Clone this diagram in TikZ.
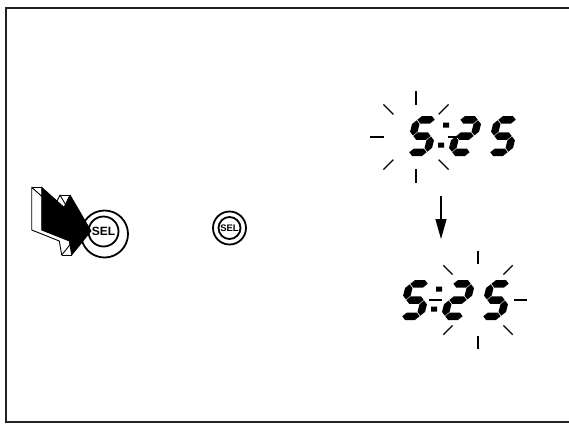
\documentclass[tikz,border=0pt]{standalone}
\usepackage{fontspec}
\setsansfont{Liberation Sans}
\usepackage{tikz}
\usetikzlibrary{arrows.meta}
\definecolor{framegray}{RGB}{35,35,35}
% seven-segment pieces (digit box 26 x 40, y up)
\newcommand{\sega}{(4.35,36.25) -- (8.1,40) -- (17.9,40) -- (21.65,36.25) -- (17.9,32.5) -- (8.1,32.5) -- cycle}
\newcommand{\segb}{(22.25,20.6) -- (26,24.35) -- (26,31.9) -- (22.25,35.65) -- (18.5,31.9) -- (18.5,24.35) -- cycle}
\newcommand{\segc}{(22.25,4.35) -- (26,8.1) -- (26,15.65) -- (22.25,19.4) -- (18.5,15.65) -- (18.5,8.1) -- cycle}
\newcommand{\segd}{(4.35,3.75) -- (8.1,7.5) -- (17.9,7.5) -- (21.65,3.75) -- (17.9,0) -- (8.1,0) -- cycle}
\newcommand{\sege}{(3.75,4.35) -- (7.5,8.1) -- (7.5,15.65) -- (3.75,19.4) -- (0,15.65) -- (0,8.1) -- cycle}
\newcommand{\segf}{(3.75,20.6) -- (7.5,24.35) -- (7.5,31.9) -- (3.75,35.65) -- (0,31.9) -- (0,24.35) -- cycle}
\newcommand{\segg}{(4.35,20) -- (8.1,23.75) -- (17.9,23.75) -- (21.65,20) -- (17.9,16.25) -- (8.1,16.25) -- cycle}
\newcommand{\lcdfive}{\fill[lcd] \sega \segf \segg \segc \segd;}
\newcommand{\lcdtwo}{\fill[lcd] \sega \segb \segg \sege \segd;}
\newcommand{\lcdcolon}{\fill[lcd] (0,8.5) rectangle (4.8,13.3) (0,28.5) rectangle (4.8,33.3);}
\tikzset{
  lcd/.style={fill=black},
  ray/.style={draw=black, line width=1.3pt},
  arr/.style={-{Triangle[length=20pt,width=11pt]}, line width=1.4pt},
  btnout/.style={circle, draw=black, line width=1.8pt, inner sep=0pt},
  btnin/.style={circle, draw=black, line width=1.8pt, inner sep=0pt,
                font=\sffamily\bfseries},
  lcdpos/.style={shift={#1}, x={(1pt,0pt)}, y={(0.25pt,1pt)}},
}

\begin{document}
\begin{tikzpicture}[x=1pt, y=-1pt,
        frame/.style={draw=framegray, line width=2.6pt},
        hand/.style={fill=black, draw=black, line width=0.8pt, line join=round},
        handside/.style={fill=white, draw=black, line width=0.9pt, line join=round}]
  \useasboundingbox (0,0) rectangle (569,424);
  \draw[frame] (572,8) -- (6,8) -- (6,422) -- (572,422);

  % pressed SEL button with pointer
  \node[btnout, minimum size=47pt] (sel1ring) at (104.5,234) {};
  \node[btnin, minimum size=30pt, font=\sffamily\bfseries\fontsize{12}{13}\selectfont]
       (sel1) at (103.5,231.5) {SEL};
  \draw[handside] (31.7,187.3) -- (54,207.3) -- (60,195) -- (81,231)
        -- (61.7,255) -- (59.3,241) -- (31.7,230) -- cycle;
  \draw[handside] (31.7,187.3) -- (41.7,187.3) (60,195) -- (70,195)
        (61.7,255) -- (71.7,255);
  \draw[hand] (41.7,187.3) -- (64,207.3) -- (70,195) -- (91,231)
        -- (71.7,255) -- (69.3,241) -- (41.7,230) -- cycle;

  % released SEL button
  \node[btnout, minimum size=33pt] (sel2ring) at (229.5,228) {};
  \node[btnin, minimum size=22pt, font=\sffamily\bfseries\fontsize{9.5}{10}\selectfont]
       (sel2) at (229.5,228) {SEL};

  % display, hour blinking
  \begin{scope}[lcdpos={(404,156)}] \lcdfive \end{scope}
  \begin{scope}[lcdpos={(436,156)}] \lcdcolon \end{scope}
  \begin{scope}[lcdpos={(447,156)}] \lcdtwo \end{scope}
  \begin{scope}[lcdpos={(485,156)}] \lcdfive \end{scope}
  \coordinate (blinkhr) at (416,137);
  \foreach \a in {0,45,...,315}
    \draw[ray, shift={(blinkhr)}] (\a:32) -- (\a:46);

  \coordinate (arrtop) at (441,196);
  \coordinate (arrtip) at (441,239);
  \draw[arr] (arrtop) -- (arrtip);

  % display, minutes blinking
  \begin{scope}[lcdpos={(397,320)}] \lcdfive \end{scope}
  \begin{scope}[lcdpos={(429,320)}] \lcdcolon \end{scope}
  \begin{scope}[lcdpos={(440,320)}] \lcdtwo \end{scope}
  \begin{scope}[lcdpos={(478,320)}] \lcdfive \end{scope}
  \coordinate (blinkmin) at (478,300);
  \foreach \a in {0,45,...,315}
    \draw[ray, shift={(blinkmin)}] (\a:36) -- (\a:49);
\end{tikzpicture}
\end{document}
